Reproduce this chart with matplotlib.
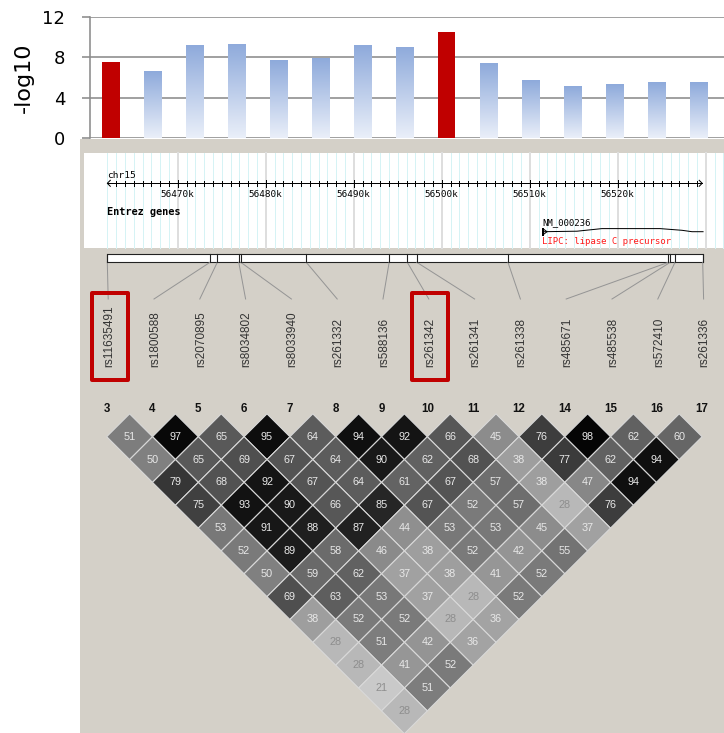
import numpy as np
import matplotlib
matplotlib.use("Agg")
import matplotlib.pyplot as plt
from matplotlib.patches import Rectangle, Polygon
from matplotlib.colors import LinearSegmentedColormap

# ---------------- data ----------------
bar_values = [7.5, 6.6, 9.2, 9.35, 7.7, 7.9, 9.2, 9.05, 10.5, 7.4, 5.75, 5.15, 5.35, 5.55, 5.55]
bar_highlight = [1, 0, 0, 0, 0, 0, 0, 0, 1, 0, 0, 0, 0, 0, 0]
y_ticks = [0, 4, 8, 12]
y_label = "-log10"

snp_names = ["rs11635491", "rs1800588", "rs2070895", "rs8034802", "rs8033940",
             "rs261332", "rs588136", "rs261342", "rs261341", "rs261338",
             "rs485671", "rs485538", "rs572410", "rs261336"]
snp_pos_kb = [56462.00, 56473.67, 56474.50, 56476.94, 56477.17, 56484.61, 56494.03,
              56496.09, 56497.17, 56507.53, 56525.77, 56525.97, 56526.51, 56529.66]
highlight_snps = ["rs11635491", "rs261342"]
marker_numbers = [3, 4, 5, 6, 7, 8, 9, 10, 11, 12, 14, 15, 16, 17]

chrom = "chr15"
ruler_start_kb, ruler_end_kb = 56462.0, 56529.6
ruler_labels_kb = [56470, 56480, 56490, 56500, 56510, 56520]
track_name = "Entrez genes"
gene_id = "NM_000236"
gene_desc = "LIPC: lipase C precursor"
gene_start_kb, gene_end_kb = 56511.4, 56529.7

ld_rows = [
    [51, 97, 65, 95, 64, 94, 92, 66, 45, 76, 98, 62, 60],
    [50, 65, 69, 67, 64, 90, 62, 68, 38, 77, 62, 94],
    [79, 68, 92, 67, 64, 61, 67, 57, 38, 47, 94],
    [75, 93, 90, 66, 85, 67, 52, 57, 28, 76],
    [53, 91, 88, 87, 44, 53, 53, 45, 37],
    [52, 89, 58, 46, 38, 52, 42, 55],
    [50, 59, 62, 37, 38, 41, 52],
    [69, 63, 53, 37, 28, 52],
    [38, 52, 52, 28, 36],
    [28, 51, 42, 36],
    [28, 41, 52],
    [21, 51],
    [28],
]

# ---------------- layout ----------------
W, H = 724, 733
fig = plt.figure(figsize=(W / 100, H / 100), dpi=100)
fig.patch.set_facecolor("white")

ov = fig.add_axes([0, 0, 1, 1], zorder=0)
ov.set_xlim(0, W)
ov.set_ylim(H, 0)
ov.axis("off")

PX = 0.72  # points per pixel

# gray background
ov.add_patch(Rectangle((80, 138.5), W - 80, H - 138.5, facecolor="#d4d0c8", edgecolor="none"))

# ---------------- bar chart ----------------
ax_top, ax_bot = 16.7, 138.3
bax = fig.add_axes([90 / W, 1 - ax_bot / H, (W - 90) / W, (ax_bot - ax_top) / H], zorder=2)
bax.patch.set_alpha(0)
cmap = LinearSegmentedColormap.from_list("g", ["#eaeff9", "#8eaadb"])
grad = np.linspace(0, 1, 256).reshape(-1, 1)
bw = 0.41
for i, (v, hl) in enumerate(zip(bar_values, bar_highlight)):
    if hl:
        bax.bar(i, v, width=bw, color="#c00000", zorder=3)
    else:
        b = bax.bar(i, v, width=bw, color="none", zorder=3)[0]
        im = bax.imshow(grad, extent=(i - bw / 2, i + bw / 2, 0, v), cmap=cmap,
                        aspect="auto", origin="lower", zorder=3, interpolation="bilinear")
        im.set_clip_path(b)
bax.set_xlim(-0.5, 14.6)
bax.set_ylim(-0.03, 12.03)
bax.set_yticks(y_ticks)
bax.set_xticks([])
bax.yaxis.grid(True, color="#8c8c8c", lw=1.6 * PX)
bax.set_axisbelow(True)
for s in ["top", "right", "bottom"]:
    bax.spines[s].set_visible(False)
bax.spines["left"].set_color("#8c8c8c")
bax.spines["left"].set_linewidth(1.6 * PX)
bax.tick_params(axis="y", length=8 * PX, width=1.6 * PX, color="#8c8c8c", pad=12,
                labelsize=13, labelcolor="black")
for t in bax.get_yticklabels():
    t.set_fontfamily("DejaVu Sans")
fig.text(24 / W, 1 - 78 / H, y_label, rotation=90, ha="center", va="center",
         fontsize=16, family="DejaVu Sans")

# ---------------- genome browser panel ----------------
def kb2px(kb):
    return 177.7 + (kb - 56470.0) * 8.8

p_top, p_bot = 152.7, 248.0
ov.add_patch(Rectangle((84, p_top), W - 84, p_bot - p_top, facecolor="white", edgecolor="none"))
for kb in range(56462, 56533):
    x = kb2px(kb)
    if kb % 10 == 0:
        ov.plot([x, x], [p_top, p_bot], color="#dedede", lw=2 * PX, zorder=1)
    else:
        ov.plot([x, x], [p_top, p_bot], color="#d6f3f5", lw=1 * PX, zorder=1)

ry = 183.3
x0, x1 = kb2px(ruler_start_kb), kb2px(ruler_end_kb)
ov.plot([x0, x1], [ry, ry], color="black", lw=1 * PX, zorder=3)
ov.plot([x0 + 3, x0, x0 + 3], [ry - 3, ry, ry + 3], color="black", lw=1 * PX, zorder=3)
ov.plot([x1 - 3, x1, x1 - 3], [ry - 3, ry, ry + 3], color="black", lw=1 * PX, zorder=3)
for kb in range(int(np.ceil(ruler_start_kb + 0.5)), int(ruler_end_kb) + 1):
    x = kb2px(kb)
    if kb % 10 == 0:
        ov.plot([x, x], [ry - 3.5, ry + 4], color="black", lw=1 * PX, zorder=3)
    else:
        ov.plot([x, x], [ry - 2.5, ry + 2.5], color="black", lw=1 * PX, zorder=3)
mono = "DejaVu Sans Mono"
ov.text(x0, 175.5, chrom, ha="left", va="center", fontsize=6.8, family=mono, zorder=4)
for kb in ruler_labels_kb:
    ov.text(kb2px(kb), 194.2, f"{kb}k", ha="center", va="center", fontsize=6.7,
            family=mono, zorder=4)
ov.text(107, 211.7, track_name, ha="left", va="center", fontsize=7.4, family=mono,
        fontweight="bold", zorder=4)
gx0, gx1 = kb2px(gene_start_kb), kb2px(gene_end_kb)
ov.text(gx0, 222.3, gene_id, ha="left", va="center", fontsize=6.5, family=mono, zorder=4)
ov.plot([gx0 + 0.5, gx0 + 0.5], [228.5, 235], color="black", lw=2 * PX, zorder=4)
ov.plot([gx0 + 2, gx0 + 5, gx0 + 2], [229.5, 231.7, 234], color="black", lw=1 * PX, zorder=4)
gxs = [gx0 + 1, gx0 + 35, gx0 + 60, gx0 + 118, gx0 + 140, gx0 + 150, gx1]
gys = [231.7, 231.2, 228.6, 228.6, 230.3, 231.7, 231.7]
ov.plot(gxs, gys, color="black", lw=1 * PX, zorder=4)
ov.text(gx0, 241.7, gene_desc, ha="left", va="center", fontsize=6.5, family=mono,
        color="#ff1a1a", zorder=4)

# ---------------- SNP strip and labels ----------------
n = len(snp_names)
mx0, mstep = 106.7, 45.8
mxs = [mx0 + mstep * i for i in range(n)]
s_top, s_bot = 254.3, 262.3
sx0, sx1 = kb2px(snp_pos_kb[0]), kb2px(snp_pos_kb[-1])
ov.add_patch(Rectangle((sx0, s_top), sx1 - sx0, s_bot - s_top, facecolor="white",
                       edgecolor="#222222", lw=1.1 * PX, zorder=3))
for i, kb in enumerate(snp_pos_kb):
    x = kb2px(kb)
    ov.plot([x, x], [s_top, s_bot], color="#222222", lw=1.1 * PX, zorder=4)
    ov.plot([x, mxs[i] + 1.5], [s_bot, 299], color="#959595", lw=1 * PX, zorder=3)
    ov.text(mxs[i] + 2.5, 367, snp_names[i], rotation=90, ha="center", va="bottom",
            fontsize=8.5, family="Liberation Sans", color="#333333", zorder=4)
    if snp_names[i] in highlight_snps:
        ov.add_patch(Rectangle((mxs[i] - 15, 292.7), 36, 87.3, facecolor="none",
                               edgecolor="#c00000", lw=4 * PX, joinstyle="round", zorder=5))

# ---------------- LD triangle ----------------
for i, num in enumerate(marker_numbers):
    ov.text(mxs[i], 409.3, str(num), ha="center", va="center", fontsize=8.3,
            family="Liberation Sans", fontweight="bold", color="#111111", zorder=4)

hx, hy = mstep / 2, 22.85
y_first = 436.7
for r, row in enumerate(ld_rows):
    for k, v in enumerate(row):
        cx = (mxs[k] + mxs[k + r + 1]) / 2
        cy = y_first + r * hy
        g = 1 - v / 100.0
        ov.add_patch(Polygon([(cx - hx, cy), (cx, cy - hy), (cx + hx, cy), (cx, cy + hy)],
                             closed=True, facecolor=(g, g, g), edgecolor="#d9d9d9",
                             lw=1.1 * PX, zorder=3))
        tc = "#8e8e8e" if v < 30 else "#e8e8e8"
        ov.text(cx, cy, str(v), ha="center", va="center", fontsize=7.8,
                family="Liberation Sans", color=tc, zorder=4)

fig.savefig("out.png", dpi=100)
